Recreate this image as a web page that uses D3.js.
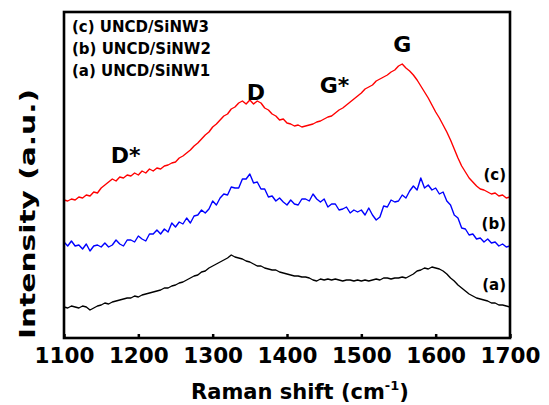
<!DOCTYPE html>
<html lang="en">
  <head>
    <meta charset="utf-8" />
    <title>Raman spectra UNCD/SiNW</title>
    <script src="https://d3js.org/d3.v7.min.js"></script>
    <style>
      body { margin: 0; background: #fff; }
      text { font-family: "DejaVu Sans", Verdana, sans-serif; font-weight: bold; fill: #000; }
    </style>
  </head>
  <body>
    <div id="chart"></div>
  </body>
  <script>
    // Raman shift grid (cm-1), one sample every 5 cm-1
    var shift = d3.range(1100, 1701, 5);

    // intensities (a.u.)
    var sinw1 = [31,30,32,31,30,32,31,28,30,32, 33,35,34,36,37,38,39,40,40,42,
                 41,43,44,45,46,47,48,50,50,52, 53,55,56,58,60,62,63,66,67,70,
                 72,74,76,78,80,83,81,80,79,77, 76,74,72,72,70,69,68,68,66,65,
                 64,63,62,62,61,61,60,58,57,59, 58,59,58,59,58,57,58,58,57,58,
                 57,58,57,58,59,58,60,60,59,60, 60,61,60,62,64,67,68,70,69,71,
                 70,69,67,64,60,57,53,50,47,44, 42,40,39,38,37,35,35,33,33,32, 31];
    var sinw2 = [96,92,97,92,93,89,94,87,92,93, 91,95,91,93,98,94,92,98,98,96,
                 102,99,97,104,104,108,104,109,106,115, 111,116,114,120,115,122,123,128,125,129,
                 137,133,140,144,143,151,150,150,159,159, 164,155,156,149,149,141,142,137,140,136,
                 133,138,134,133,139,139,137,144,139,136, 139,131,134,134,128,129,131,125,128,126,
                 128,123,130,123,118,121,132,131,138,136, 137,143,140,147,152,148,160,150,153,148,
                 150,144,146,137,133,123,120,110,109,103, 104,99,100,96,99,95,96,92,94,91, 92];
    var sinw3 = [138,137,139,138,141,140,143,142,146,145, 150,153,156,159,157,161,160,163,162,165,
                 163,167,165,169,167,170,169,172,173,175, 176,180,182,185,188,192,195,199,203,206,
                 211,214,218,222,224,229,231,235,237,234, 238,234,237,235,230,228,224,222,218,219,
                 215,214,212,213,211,212,213,214,216,217, 219,221,222,225,228,230,233,236,239,242,
                 245,249,251,253,257,259,261,263,266,268, 272,274,270,267,263,258,252,246,240,233,
                 226,220,213,206,198,189,180,172,166,160, 156,152,149,148,146,144,145,142,143,140, 141];

    var xTicks = [1100, 1200, 1300, 1400, 1500, 1600, 1700];
    var legendLabels = ["(c) UNCD/SiNW3", "(b) UNCD/SiNW2", "(a) UNCD/SiNW1"];
    var curveLabels = ["(c)", "(b)", "(a)"];
    var peakNames = ["D*", "D", "G*", "G"];
    var peakShift = [1183, 1358, 1464, 1555];
    var peakLevel = [175, 238, 245, 286];

    var width = 549,
        height = 405,
        margin = {top: 12, right: 39, bottom: 67, left: 64};

    var svg = d3.select("#chart")
                .append("svg")
                .attr("width", width)
                .attr("height", height);

    var x = d3.scaleLinear()
              .domain([1100, 1700])
              .range([margin.left, width - margin.right]);
    var y = d3.scaleLinear()
              .domain([0, 326])
              .range([height - margin.bottom, margin.top]);

    var line = d3.line()
                 .x(function(d, i) { return x(shift[i]); })
                 .y(function(d) { return y(d); });

    // spectra
    var series = [
        {values: sinw3, color: "#ff0000"},
        {values: sinw2, color: "#0000ff"},
        {values: sinw1, color: "#000000"}
    ];
    svg.selectAll("path.spectrum")
       .data(series)
       .enter().append("path")
       .attr("class", "spectrum")
       .attr("d", function(d) { return line(d.values); })
       .attr("fill", "none")
       .attr("stroke", function(d) { return d.color; })
       .attr("stroke-width", 1.4)
       .attr("stroke-linejoin", "round");

    // bottom axis, ticks pointing inward
    var xAxis = d3.axisBottom(x)
                  .tickValues(xTicks)
                  .tickFormat(d3.format("d"))
                  .tickSizeInner(-4)
                  .tickSizeOuter(0)
                  .tickPadding(10);
    var gx = svg.append("g")
                .attr("transform", "translate(0," + (height - margin.bottom) + ")")
                .call(xAxis);
    gx.select(".domain").remove();
    gx.selectAll(".tick line").attr("stroke", "#000").attr("stroke-width", 2.5);
    gx.selectAll(".tick text")
      .attr("font-size", 21.5)
      .attr("font-family", "DejaVu Sans")
      .attr("font-weight", "bold")
      .attr("fill", "#000");

    // frame
    svg.append("rect")
       .attr("x", margin.left)
       .attr("y", margin.top)
       .attr("width", width - margin.left - margin.right)
       .attr("height", height - margin.top - margin.bottom)
       .attr("fill", "none")
       .attr("stroke", "#000")
       .attr("stroke-width", 2.6);

    // legend text, top left
    svg.selectAll("text.legend")
       .data(legendLabels)
       .enter().append("text")
       .attr("class", "legend")
       .attr("x", margin.left + 8)
       .attr("y", function(d, i) { return 32 + i * 22; })
       .attr("font-size", 15)
       .text(function(d) { return d; });

    // labels next to curves on the right
    var curveEnds = [sinw3, sinw2, sinw1];
    svg.selectAll("text.curve")
       .data(curveLabels)
       .enter().append("text")
       .attr("class", "curve")
       .attr("x", x(1700) - 4)
       .attr("y", function(d, i) { return y(curveEnds[i][curveEnds[i].length - 1]) - 17; })
       .attr("text-anchor", "end")
       .attr("font-size", 15)
       .text(function(d) { return d; });

    // peak names
    svg.selectAll("text.peak")
       .data(peakNames)
       .enter().append("text")
       .attr("class", "peak")
       .attr("x", function(d, i) { return x(peakShift[i]); })
       .attr("y", function(d, i) { return y(peakLevel[i]); })
       .attr("text-anchor", "middle")
       .attr("font-size", 22)
       .text(function(d) { return d; });

    // axis titles
    var xt = svg.append("text")
                .attr("x", (margin.left + width - margin.right) / 2 + 13)
                .attr("y", 399)
                .attr("text-anchor", "middle")
                .attr("font-size", 21);
    xt.append("tspan").text("Raman shift (cm");
    xt.append("tspan").attr("font-size", 13).attr("dy", -9).text("-1");
    xt.append("tspan").attr("dy", 9).text(")");

    svg.append("text")
       .attr("transform", "translate(35," + 214 + ") rotate(-90)")
       .attr("text-anchor", "middle")
       .attr("font-size", 22)
       .attr("textLength", 250)
       .attr("lengthAdjust", "spacingAndGlyphs")
       .text("Intensity (a.u.)");
  </script>
</html>
